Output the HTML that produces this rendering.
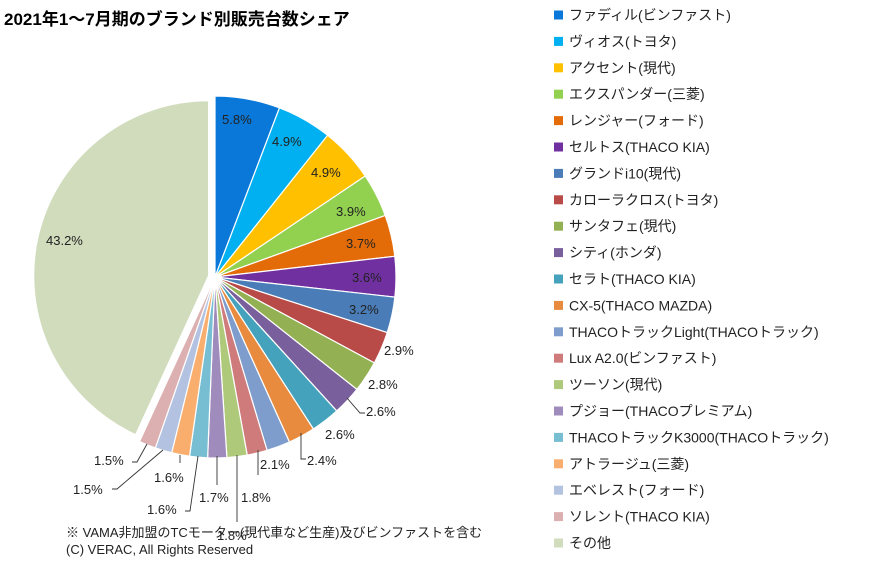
<!DOCTYPE html>
<html><head><meta charset="utf-8">
<style>
body{margin:0;background:#fff;width:871px;height:580px;overflow:hidden;font-family:"Liberation Sans","Noto Sans CJK JP",sans-serif;}
svg text{font-family:"Liberation Sans","Noto Sans CJK JP",sans-serif;}
</style></head><body>
<svg id="s" width="871" height="580" xmlns="http://www.w3.org/2000/svg">
<text x="4" y="25" font-size="17" font-weight="bold" fill="#000">2021年1～7月期のブランド別販売台数シェア</text>
<g id="pie"></g>
<g id="lab" font-size="13" fill="#222"></g>
<g stroke="#333" stroke-width="0.9" fill="none">
<polyline points="347,398 360,413 365,413"/>
<polyline points="301,433 301,459 306,459"/>
<polyline points="258,450 258,475"/>
<polyline points="237,455 237,522"/>
<polyline points="217,456 217,485"/>
<polyline points="198,456 190,511 185,511"/>
<polyline points="180,455 180,463"/>
<polyline points="163,450 117,489 112,489"/>
<polyline points="147,444 137,462 132,462"/>
</g>
<text x="66" y="537" font-size="13" fill="#222">※ VAMA非加盟のTCモーター(現代車など生産)及びビンファストを含む</text>
<text x="66" y="554" font-size="13" fill="#222">(C) VERAC, All Rights Reserved</text>
<g id="leg" font-size="14" fill="#222"></g>
</svg>
<script>
var vals=[5.8,4.9,4.9,3.9,3.7,3.6,3.2,2.9,2.8,2.6,2.6,2.4,2.1,1.8,1.8,1.7,1.6,1.6,1.5,1.5,43.2];
var cols=["#0A78D8","#00B0F0","#FFC000","#92D050","#E36C09","#7030A0","#4A7CB8","#B84A47","#93B152","#795F9C","#45A2BC","#E98B3E","#7F9DCC","#CF7B7B","#AFC97A","#A08CBC","#78BED2","#F9AE6E","#B3C2E0","#DCB0B0","#D0DCBC"];
var names=["ファディル(ビンファスト)","ヴィオス(トヨタ)","アクセント(現代)","エクスパンダー(三菱)","レンジャー(フォード)","セルトス(THACO KIA)","グランドi10(現代)","カローラクロス(トヨタ)","サンタフェ(現代)","シティ(ホンダ)","セラト(THACO KIA)","CX-5(THACO MAZDA)","THACOトラックLight(THACOトラック)","Lux A2.0(ビンファスト)","ツーソン(現代)","プジョー(THACOプレミアム)","THACOトラックK3000(THACOトラック)","アトラージュ(三菱)","エベレスト(フォード)","ソレント(THACO KIA)","その他"];
var tot=vals.reduce((a,b)=>a+b,0),cx=215,cy=277,acc=0,h="";
vals.forEach(function(v,i){
 var r=181;
 var a0=acc/tot*2*Math.PI,a1=(acc+v)/tot*2*Math.PI;acc+=v;
 var ox=0,oy=0;if(i==20){r=175;var am=(a0+a1)/2;ox=6.5*Math.sin(am);oy=-6.5*Math.cos(am);}
 var x0=cx+ox+r*Math.sin(a0),y0=cy+oy-r*Math.cos(a0),x1=cx+ox+r*Math.sin(a1),y1=cy+oy-r*Math.cos(a1);
 h+='<path d="M'+(cx+ox)+','+(cy+oy)+'L'+x0+','+y0+'A'+r+','+r+' 0 '+((a1-a0)>Math.PI?1:0)+' 1 '+x1+','+y1+'Z" fill="'+cols[i]+'" stroke="#fff" stroke-width="1.2"/>';
});
document.getElementById('pie').innerHTML=h;
var L=[[222,124,"5.8%"],[272,146,"4.9%"],[311,177,"4.9%"],[336,216,"3.9%"],[346,248,"3.7%"],[352,282,"3.6%"],[349,314,"3.2%"],[384,355,"2.9%"],[368,389,"2.8%"],[366,416,"2.6%"],[325,439,"2.6%"],[307,465,"2.4%"],[260,469,"2.1%"],[241,502,"1.8%"],[217,540,"1.8%"],[199,502,"1.7%"],[154,482,"1.6%"],[147,514,"1.6%"],[94,465,"1.5%"],[73,494,"1.5%"],[46,245,"43.2%"]];
document.getElementById('lab').innerHTML=L.map(l=>'<text x="'+l[0]+'" y="'+l[1]+'">'+l[2]+'</text>').join('');
var g="";names.forEach(function(n,i){var y=15+i*26.4;g+='<rect x="554" y="'+(y-4.5)+'" width="9" height="9" fill="'+cols[i]+'"/><text x="569" y="'+(y+5)+'">'+n+'</text>';});
document.getElementById('leg').innerHTML=g;
</script>
</body></html>
